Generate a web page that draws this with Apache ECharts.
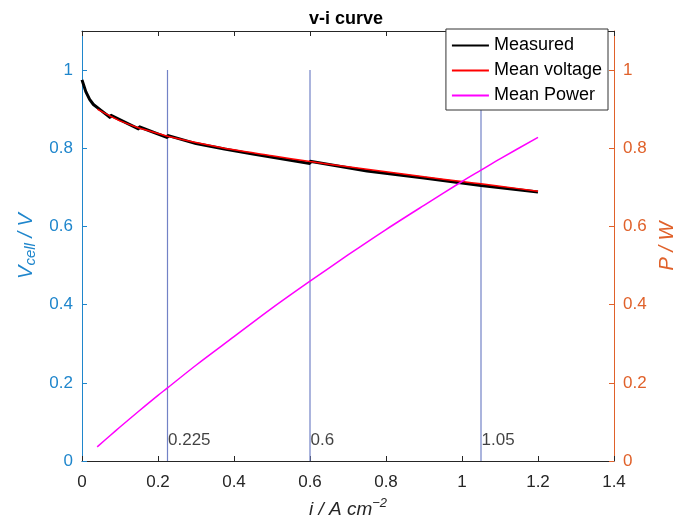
<!DOCTYPE html>
<html>
<head>
<meta charset="utf-8">
<script src="https://cdn.jsdelivr.net/npm/echarts@6/dist/echarts.min.js"></script>
<style>
  html, body { margin: 0; padding: 0; background: #fff; }
  #chart { width: 683px; height: 522px; }
</style>
</head>
<body>
<div id="chart"></div>
<script>
// 读图得到的数据
var currentPts = [0.04, 0.075, 0.1, 0.15, 0.2, 0.225, 0.3, 0.4, 0.5, 0.6, 0.7, 0.8, 0.9, 1.0, 1.05, 1.1, 1.2];
var meanVoltage = [0.900, 0.882, 0.870, 0.852, 0.838, 0.831, 0.815, 0.796, 0.781, 0.766, 0.753, 0.740, 0.727, 0.715, 0.709, 0.703, 0.690];
var meanPower = [0.036, 0.066, 0.087, 0.128, 0.168, 0.187, 0.245, 0.318, 0.391, 0.460, 0.527, 0.592, 0.654, 0.715, 0.744, 0.773, 0.828];

// 测量曲线 (锯齿状, 每段结束后跳回)
var measI = [0, 0.01, 0.02, 0.03, 0.05, 0.075, 0.075, 0.15, 0.15, 0.225, 0.225, 0.3, 0.3, 0.375, 0.375, 0.45, 0.45, 0.6, 0.6, 0.75, 0.75, 0.9, 0.9, 1.05, 1.05, 1.2];
var measV = [0.975, 0.945, 0.925, 0.912, 0.897, 0.878, 0.885, 0.849, 0.855, 0.827, 0.833, 0.812, 0.817, 0.798, 0.802, 0.785, 0.789, 0.761, 0.767, 0.742, 0.747, 0.724, 0.728, 0.705, 0.709, 0.688];

var markCurrents = [0.225, 0.6, 1.05];
var markLabels = ['0.225', '0.6', '1.05'];

var xTicks = [0, 0.2, 0.4, 0.6, 0.8, 1, 1.2, 1.4];
var yTicks = [0, 0.2, 0.4, 0.6, 0.8, 1];

var FONT = 'Liberation Sans, Arial, sans-serif';
var BLUE = '#1f86cc';
var ORANGE = '#e0612a';
var DARK = '#262626';

function pairs(xs, ys){
    var res = [];
    for (var i = 0; i < xs.length; i ++)
        res.push([xs[i], ys[i]]);
    return res;
}

var series = [];
markCurrents.forEach(function(c){
    series.push({
        type: 'line', name: 'mark' + c, data: [[c, 0], [c, 1]],
        showSymbol: false, silent: true,
        lineStyle: {color: '#7282c6', width: 1.2}, z: 1
    });
});
series.push({
    type: 'scatter', name: 'marklabels', symbolSize: 1,
    itemStyle: {color: 'transparent'},
    data: markCurrents.map(function(c, k){ return {value: [c, 0.054], name: markLabels[k]}; }),
    label: {show: true, position: 'right', distance: 0, formatter: '{b}',
            color: '#111', fontSize: 17, fontFamily: FONT},
    z: 2
});
series.push({
    type: 'line', name: 'Measured', data: pairs(measI, measV),
    showSymbol: false, lineStyle: {color: '#000', width: 3}, itemStyle: {color: '#000'}, z: 3
});
series.push({
    type: 'line', name: 'Mean voltage', data: pairs(currentPts, meanVoltage),
    showSymbol: false, smooth: 0.3, lineStyle: {color: '#ff0000', width: 1.5}, itemStyle: {color: '#ff0000'}, z: 4
});
series.push({
    type: 'line', name: 'Mean Power', yAxisIndex: 1, data: pairs(currentPts, meanPower),
    showSymbol: false, smooth: 0.3, lineStyle: {color: '#ff00ff', width: 1.5}, itemStyle: {color: '#ff00ff'}, z: 4
});

var option = {
    animation: false,
    title: {
        text: 'v-i curve', left: 304, top: 5,
        textStyle: {fontSize: 18, fontWeight: 'bold', color: '#000', fontFamily: FONT}
    },
    legend: {
        data: ['Measured', 'Mean voltage', 'Mean Power'],
        orient: 'vertical', right: 75, top: 29,
        icon: 'rect', itemWidth: 37, itemHeight: 2, itemGap: 6,
        padding: [7, 6, 5, 6],
        borderColor: '#333', borderWidth: 1, backgroundColor: '#fff',
        textStyle: {fontSize: 18, lineHeight: 19, color: '#000', fontFamily: FONT}
    },
    grid: {left: 82, right: 69, top: 31, bottom: 61, containLabel: false, outerBoundsMode: 'none'},
    xAxis: [
        {
            type: 'value', min: 0, max: 1.4, interval: 0.2, position: 'bottom',
            name: '{it|i / A cm}{sup|−2}', nameLocation: 'middle', nameGap: 36,
            nameTextStyle: {
                rich: {
                    it: {fontSize: 19, fontStyle: 'italic', color: DARK, fontFamily: FONT},
                    sup: {fontSize: 13, fontStyle: 'italic', color: DARK, fontFamily: FONT, padding: [0, 0, 12, 0]}
                }
            },
            axisLine: {onZero: false, lineStyle: {color: DARK, width: 1}},
            axisTick: {inside: true, length: 5, lineStyle: {color: DARK}},
            axisLabel: {fontSize: 17, color: DARK, margin: 13, fontFamily: FONT, customValues: xTicks},
            splitLine: {show: false}
        },
        {
            type: 'value', min: 0, max: 1.4, interval: 0.2, position: 'top',
            axisLine: {show: true, onZero: false, lineStyle: {color: DARK, width: 1}},
            axisTick: {show: true, inside: true, length: 5, lineStyle: {color: DARK}},
            axisLabel: {show: false},
            splitLine: {show: false}
        }
    ],
    yAxis: [
        {
            type: 'value', min: 0, max: 1.1, position: 'left',
            name: '{it|V}{sub|cell}{it| / V}', nameLocation: 'middle', nameGap: 42, nameRotate: 90,
            nameTextStyle: {
                rich: {
                    it: {fontSize: 20, fontStyle: 'italic', color: BLUE, fontFamily: FONT},
                    sub: {fontSize: 15, fontStyle: 'italic', color: BLUE, fontFamily: FONT, padding: [10, 0, 0, 0]}
                }
            },
            axisLine: {show: true, onZero: false, lineStyle: {color: BLUE, width: 1}},
            axisTick: {show: true, inside: true, length: 5, customValues: yTicks, lineStyle: {color: BLUE}},
            axisLabel: {fontSize: 17, color: BLUE, margin: 9, fontFamily: FONT, customValues: yTicks},
            splitLine: {show: false}
        },
        {
            type: 'value', min: 0, max: 1.1, position: 'right',
            name: 'P / W', nameLocation: 'middle', nameGap: 40, nameRotate: 90,
            nameTextStyle: {fontSize: 20, fontStyle: 'italic', color: ORANGE, fontFamily: FONT},
            axisLine: {show: true, onZero: false, lineStyle: {color: ORANGE, width: 1}},
            axisTick: {show: true, inside: true, length: 5, customValues: yTicks, lineStyle: {color: ORANGE}},
            axisLabel: {fontSize: 17, color: ORANGE, margin: 9, fontFamily: FONT, customValues: yTicks},
            splitLine: {show: false}
        }
    ],
    series: series
};

var chart = echarts.init(document.getElementById('chart'));
chart.setOption(option);
</script>
</body>
</html>
